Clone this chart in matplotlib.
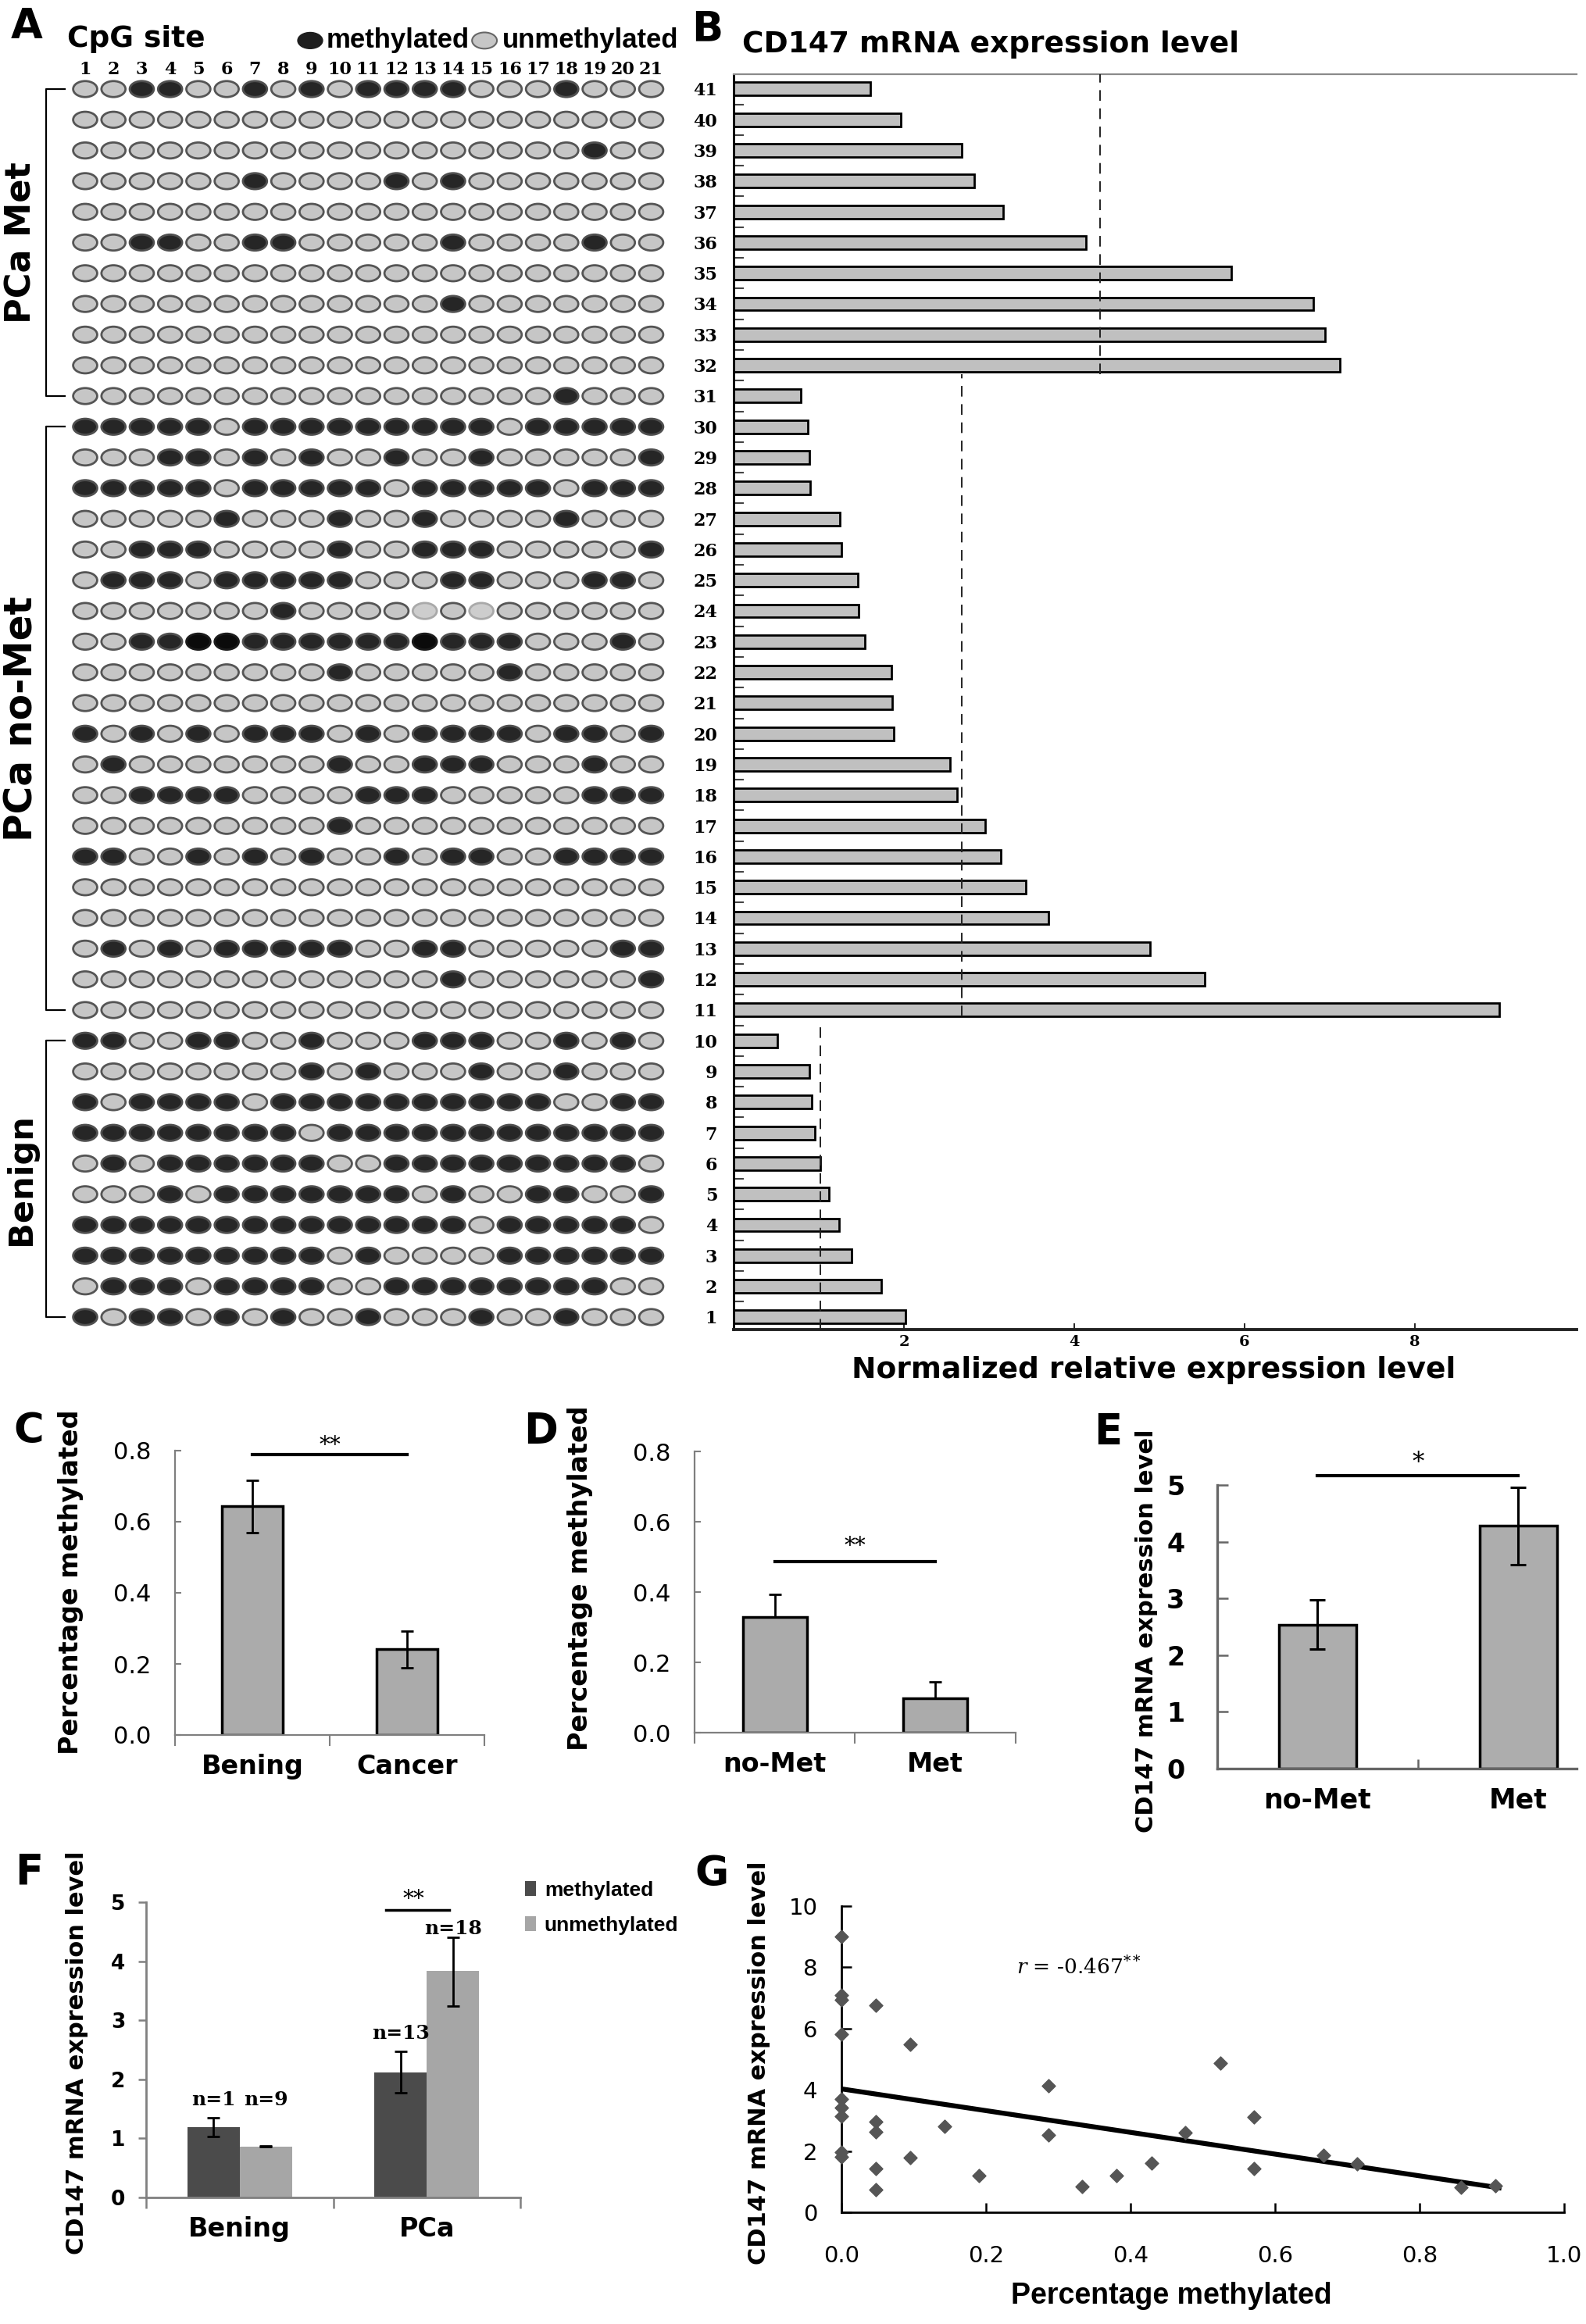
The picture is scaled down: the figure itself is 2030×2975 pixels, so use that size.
import numpy as np
import matplotlib.pyplot as plt
from matplotlib.patches import Ellipse
from matplotlib.ticker import FormatStrFormatter

plt.rcParams['font.family'] = 'DejaVu Sans'
plt.rcParams['mathtext.fontset'] = 'dejavuserif'

W, H = 2031, 2975
SERIF = 'DejaVu Serif'
ARIAL = 'Liberation Sans'

#%% data
samples = list(range(1, 42))
cpg_sites = list(range(1, 22))
# sample 1 .. 41, CpG site 1 .. 21
# 0 unmethylated, 1 methylated, 2 faint unmethylated, 3 strongly methylated
cpg_pattern = [
    "101101010010001001000",
    "011101111001111111100",
    "111111111010000111111",
    "111111111111110111110",
    "000101111111010011001",
    "010111111001111111110",
    "111111110111111111111",
    "101111011111111110011",
    "000000001010001001000",
    "110011001000111001010",
    "000000000000000000000",
    "000000000000010000001",
    "010101111100110000011",
    "000000000000000000000",
    "000000000000000000000",
    "110010101001011001111",
    "000000000100000000000",
    "001111000011100000111",
    "010000000100111000100",
    "101010111010111101101",
    "000000000000000000000",
    "000000000100000100000",
    "001133111111311100010",
    "000000010000202000000",
    "011101111100011000110",
    "001110000100111000001",
    "000001000100100001000",
    "111110111110111110111",
    "000110101001001000001",
    "111110111111111011111",
    "000000000000000001000",
    "000000000000000000000",
    "000000000000000000000",
    "000000000000010000000",
    "000000000000000000000",
    "001100110000010000100",
    "000000000000000000000",
    "000000100001010000000",
    "000000000000000000100",
    "000000000000000000000",
    "001100101011110001000",
]
expression = [2.02, 1.73, 1.39, 1.24, 1.12, 1.02, 0.95, 0.92, 0.89, 0.51,
              8.99, 5.53, 4.89, 3.70, 3.43, 3.14, 2.95, 2.62, 2.54, 1.88,
              1.86, 1.85, 1.54, 1.47, 1.46, 1.27, 1.25, 0.90, 0.89, 0.87,
              0.79, 7.12, 6.95, 6.81, 5.84, 4.14, 3.17, 2.83, 2.68, 1.96, 1.61]
groups = ['Benign', 'PCa no-Met', 'PCa Met']
group_rows = [(1, 10), (11, 30), (31, 41)]
group_mean = [1.02, 2.68, 4.30]
mean_span = [(0.59, 10.65), (10.8, 31.7), (31.7, 41.49)]

c_labels = ['Bening', 'Cancer']
c_vals = [0.643, 0.241]
c_err_lo = [0.074, 0.053]
c_err_hi = [0.074, 0.051]

d_labels = ['no-Met', 'Met']
d_vals = [0.328, 0.098]
d_err = [0.065, 0.047]

e_labels = ['no-Met', 'Met']
e_vals = [2.53, 4.29]
e_err_lo = [0.42, 0.70]
e_err_hi = [0.45, 0.67]

f_groups = ['Bening', 'PCa']
f_meth = [1.195, 2.117]
f_meth_lo = [0.16, 0.34]
f_meth_hi = [0.15, 0.36]
f_unmeth = [0.863, 3.83]
f_unmeth_lo = [0.005, 0.59]
f_unmeth_hi = [0.005, 0.58]
f_meth_n = ['n=1', 'n=13']
f_unmeth_n = ['n=9', 'n=18']

g_x = [0, 0, 0, 0, 0, 0, 0, 0, 0,
       0.048, 0.048, 0.048, 0.048, 0.048, 0.095, 0.095, 0.143, 0.190,
       0.286, 0.286, 0.333, 0.381, 0.429, 0.476, 0.524, 0.571, 0.571,
       0.667, 0.714, 0.857, 0.905]
g_y = [9.0, 7.08, 6.93, 5.82, 3.69, 3.41, 3.13, 1.96, 1.81,
       6.75, 2.95, 2.64, 1.43, 0.75, 5.48, 1.79, 2.81, 1.21,
       4.14, 2.53, 0.85, 1.21, 1.60, 2.59, 4.86, 3.12, 1.43,
       1.86, 1.58, 0.82, 0.87]
g_fit_x = [0.0, 0.91]
g_fit_y = [4.03, 0.80]

#%% helpers
fig = plt.figure(figsize=(W / 100, H / 100), dpi=100)
fig.patch.set_facecolor('white')


def px_axes(x0, y0, x1, y1):
    return fig.add_axes([x0 / W, 1 - y1 / H, (x1 - x0) / W, (y1 - y0) / H])


def ftext(x, y, s, **kw):
    return fig.text(x / W, 1 - y / H, s, **kw)


def panel_letter(x, y, s):
    ftext(x, y, s, fontsize=38, fontweight='bold', ha='center', va='center')


def style_bar_axes(ax, color, lw):
    for side in ['top', 'right']:
        ax.spines[side].set_visible(False)
    for side in ['left', 'bottom']:
        ax.spines[side].set_color(color)
        ax.spines[side].set_linewidth(lw)


#%% A: methylation map
axA = px_axes(90.9, 94.35, 851.6, 1705.65)
axA.set_xlim(0.5, 21.5)
axA.set_ylim(0.5, 41.5)
axA.axis('off')
dot_style = {'0': ('#c6c6c6', '#555555'), '1': ('#262626', '#4f4f4f'),
             '2': ('#cdcdcd', '#a9a9a9'), '3': ('#0b0b0b', '#1b1b1b')}
for s, pat in zip(samples, cpg_pattern):
    for site, c in zip(cpg_sites, pat):
        fc, ec = dot_style[c]
        axA.add_patch(Ellipse((site, s), 0.85, 0.52, facecolor=fc,
                              edgecolor=ec, lw=2))
for site in cpg_sites:
    axA.text(site, 41.64, str(site), ha='center', va='center', fontsize=16,
             fontweight='bold', family=SERIF, clip_on=False)
label_size = {'Benign': 31, 'PCa no-Met': 35, 'PCa Met': 32}
for name, (lo, hi) in zip(groups, group_rows):
    axA.plot([0.28, -0.38, -0.38, 0.28], [hi, hi, lo, lo], color='black',
             lw=1.6, clip_on=False)
    axA.text(-1.26, (lo + hi) / 2, name, rotation=90, ha='center',
             va='center', fontsize=label_size[name], fontweight='bold',
             clip_on=False)
axA.add_patch(Ellipse((8.95, 42.58), 0.88, 0.53, facecolor='#1e1e1e',
                      edgecolor='#1e1e1e', clip_on=False))
axA.add_patch(Ellipse((15.11, 42.58), 0.88, 0.53, facecolor='#c6c6c6',
                      edgecolor='#666666', lw=1.5, clip_on=False))
panel_letter(34, 34, 'A')
ftext(86, 50, 'CpG site', fontsize=27, fontweight='bold', va='center')
ftext(418, 52, 'methylated', fontsize=25, fontweight='bold', va='center',
      family=ARIAL)
ftext(643, 52, 'unmethylated', fontsize=25, fontweight='bold', va='center',
      family=ARIAL)

#%% B: expression per sample
axB = px_axes(939, 94.6, 2018, 1702)
axB.barh(samples, expression, height=0.43, color='#c0c0c0',
         edgecolor='black', lw=2, zorder=2)
for m, (lo, hi) in zip(group_mean, mean_span):
    axB.plot([m, m], [lo, hi], color='#222222', lw=1.4, ls=(0, (7, 5)),
             zorder=3)
axB.set_xlim(0, 9.9)
axB.set_ylim(0.59, 41.49)
axB.set_yticks(samples)
axB.set_yticklabels([str(s) for s in samples], family=SERIF,
                    fontweight='bold', fontsize=16)
axB.set_yticks(np.arange(1.5, 41, 1), minor=True)
axB.tick_params(axis='y', which='major', length=0, pad=15)
axB.tick_params(axis='y', which='minor', length=9, width=1.5,
                direction='in', color='#444444')
axB.set_xticks([2, 4, 6, 8])
axB.set_xticklabels(['2', '4', '6', '8'], family=SERIF, fontweight='bold',
                    fontsize=14)
axB.tick_params(axis='x', direction='in', length=6, width=1.2, pad=5)
axB.spines['right'].set_visible(False)
axB.spines['top'].set_color('#8a8a8a')
axB.spines['top'].set_linewidth(1.6)
axB.spines['left'].set_linewidth(2)
axB.spines['bottom'].set_linewidth(2.8)
axB.spines['bottom'].set_color('#222222')
panel_letter(905, 37, 'B')
ftext(950, 57, 'CD147 mRNA expression level', fontsize=27,
      fontweight='bold', va='center')
ftext(1477, 1754, 'Normalized relative expression level', fontsize=27,
      fontweight='bold', ha='center', va='center')

#%% C: methylation benign vs cancer
axC = px_axes(224, 1857, 620, 2221)
axC.bar([0, 1], c_vals, width=0.39, color='#ababab', edgecolor='black',
        lw=2.5, zorder=2)
axC.errorbar([0, 1], c_vals, yerr=[c_err_lo, c_err_hi], fmt='none',
             ecolor='black', elinewidth=2, capsize=6, capthick=2, zorder=3)
axC.set_xlim(-0.5, 1.5)
axC.set_ylim(0, 0.8)
axC.set_yticks([0, 0.2, 0.4, 0.6, 0.8])
axC.yaxis.set_major_formatter(FormatStrFormatter('%.1f'))
axC.set_xticks([0, 1])
axC.set_xticklabels(c_labels, fontsize=24, fontweight='bold')
axC.set_xticks([-0.5, 0.5, 1.5], minor=True)
axC.tick_params(axis='x', which='major', length=0, pad=17)
axC.tick_params(axis='x', which='minor', length=10, direction='out',
                color='#7f7f7f', width=1.5)
axC.tick_params(axis='y', direction='in', length=6, color='#7f7f7f',
                width=1.5, labelsize=22, pad=22)
style_bar_axes(axC, '#7f7f7f', 1.6)
axC.plot([0, 1], [0.789, 0.789], color='black', lw=3, clip_on=False)
axC.text(0.5, 0.815, '**', ha='center', va='center', fontsize=20,
         family=SERIF, clip_on=False)
panel_letter(37, 1832, 'C')
ftext(91, 2025, 'Percentage methylated', rotation=90, fontsize=24,
      fontweight='bold', ha='center', va='center')

#%% D: methylation no-Met vs Met
axD = px_axes(889, 1858, 1300, 2218)
axD.bar([0, 1], d_vals, width=0.40, color='#ababab', edgecolor='black',
        lw=2.5, zorder=2)
axD.errorbar([0, 1], d_vals, yerr=d_err, fmt='none', ecolor='black',
             elinewidth=2, capsize=6, capthick=2, zorder=1)
axD.set_xlim(-0.5, 1.5)
axD.set_ylim(0, 0.8)
axD.set_yticks([0, 0.2, 0.4, 0.6, 0.8])
axD.yaxis.set_major_formatter(FormatStrFormatter('%.1f'))
axD.set_xticks([0, 1])
axD.set_xticklabels(d_labels, fontsize=24, fontweight='bold')
axD.set_xticks([-0.5, 0.5, 1.5], minor=True)
axD.tick_params(axis='x', which='major', length=0, pad=17)
axD.tick_params(axis='x', which='minor', length=10, direction='out',
                color='#7f7f7f', width=1.5)
axD.tick_params(axis='y', direction='in', length=6, color='#7f7f7f',
                width=1.5, labelsize=22, pad=22)
style_bar_axes(axD, '#7f7f7f', 1.6)
axD.plot([0, 1], [0.487, 0.487], color='black', lw=3)
axD.text(0.5, 0.531, '**', ha='center', va='center', fontsize=20,
         family=SERIF)
panel_letter(692, 1832, 'D')
ftext(743, 2020, 'Percentage methylated', rotation=90, fontsize=24,
      fontweight='bold', ha='center', va='center')

#%% E: expression no-Met vs Met
axE = px_axes(1558, 1901, 2018, 2264)
axE.bar([0, 1], e_vals, width=0.385, color='#adadad', edgecolor='black',
        lw=2.5, zorder=2)
axE.errorbar([0, 1], e_vals, yerr=[e_err_lo, e_err_hi], fmt='none',
             ecolor='black', elinewidth=2.2, capsize=7, capthick=2.2,
             zorder=3)
axE.set_xlim(-0.5, 1.29)
axE.set_ylim(0, 5)
axE.set_yticks([0, 1, 2, 3, 4, 5])
axE.set_xticks([0, 1])
axE.set_xticklabels(e_labels, fontsize=25, fontweight='bold')
axE.set_xticks([0.5], minor=True)
axE.tick_params(axis='x', which='major', length=0, pad=17)
axE.tick_params(axis='x', which='minor', length=9, direction='in',
                color='#666666', width=1.8)
axE.tick_params(axis='y', direction='in', length=10, color='#666666',
                width=1.8, labelsize=24, pad=30)
for lbl in axE.get_yticklabels():
    lbl.set_fontweight('bold')
style_bar_axes(axE, '#666666', 2.4)
axE.plot([0, 1], [5.17, 5.17], color='black', lw=3, clip_on=False)
axE.text(0.5, 5.39, '*', ha='center', va='center', fontsize=22,
         family=SERIF, clip_on=False)
panel_letter(1418, 1833, 'E')
ftext(1468, 2088, 'CD147 mRNA expression level', rotation=90, fontsize=22,
      fontweight='bold', ha='center', va='center')

#%% F: expression by methylation status
axF = px_axes(187, 2435, 666, 2813)
pos = np.arange(len(f_groups))
axF.bar(pos - 0.14, f_meth, width=0.28, color='#4b4b4b', zorder=2,
        label='methylated')
axF.bar(pos + 0.14, f_unmeth, width=0.28, color='#a6a6a6', zorder=2,
        label='unmethylated')
axF.errorbar(pos - 0.14, f_meth, yerr=[f_meth_lo, f_meth_hi], fmt='none',
             ecolor='black', elinewidth=2, capsize=6, capthick=2, zorder=3)
axF.errorbar(pos + 0.14, f_unmeth, yerr=[f_unmeth_lo, f_unmeth_hi],
             fmt='none', ecolor='black', elinewidth=2, capsize=6,
             capthick=2, zorder=3)
n_label_y = [(1.66, 1.66), (2.78, 4.55)]
for i in range(len(f_groups)):
    axF.text(pos[i] - 0.14, n_label_y[i][0], f_meth_n[i], ha='center',
             va='center', fontsize=18, fontweight='bold', family=SERIF)
    axF.text(pos[i] + 0.14, n_label_y[i][1], f_unmeth_n[i], ha='center',
             va='center', fontsize=18, fontweight='bold', family=SERIF)
axF.set_xlim(-0.5, 1.5)
axF.set_ylim(0, 5)
axF.set_yticks([0, 1, 2, 3, 4, 5])
axF.set_xticks(pos)
axF.set_xticklabels(f_groups, fontsize=24, fontweight='bold')
axF.set_xticks([-0.5, 0.5, 1.5], minor=True)
axF.tick_params(axis='x', which='major', length=0, pad=17)
axF.tick_params(axis='x', which='minor', length=10, direction='out',
                color='#808080', width=1.8)
axF.tick_params(axis='y', direction='out', length=7, color='#808080',
                width=1.8, labelsize=19, pad=12)
for lbl in axF.get_yticklabels():
    lbl.set_fontweight('bold')
style_bar_axes(axF, '#808080', 2)
axF.plot([0.78, 1.12], [4.87, 4.87], color='black', lw=2.5, clip_on=False)
axF.text(0.93, 5.05, '**', ha='center', va='center', fontsize=20,
         family=SERIF, clip_on=False)
axF.legend(loc='upper left', bbox_to_anchor=(0.99, 1.1), frameon=False,
           prop={'family': ARIAL, 'weight': 'bold', 'size': 19},
           handlelength=0.55, handleheight=0.75, handletextpad=0.4,
           labelspacing=0.8, borderaxespad=0)
panel_letter(37, 2397, 'F')
ftext(99, 2628, 'CD147 mRNA expression level', rotation=90, fontsize=22,
      fontweight='bold', ha='center', va='center')

#%% G: correlation
axG = px_axes(1077, 2440, 2002, 2832)
axG.scatter(g_x, g_y, marker='D', s=75, color='#555555', zorder=3,
            clip_on=False)
axG.plot(g_fit_x, g_fit_y, color='black', lw=4.5, zorder=2)
axG.set_xlim(0, 1)
axG.set_ylim(0, 10)
axG.set_xticks([0, 0.2, 0.4, 0.6, 0.8, 1.0])
axG.xaxis.set_major_formatter(FormatStrFormatter('%.1f'))
axG.set_yticks([0, 2, 4, 6, 8, 10])
axG.tick_params(axis='x', direction='in', length=9, width=1.8, labelsize=21,
                pad=30)
axG.tick_params(axis='y', direction='in', length=9, width=1.8, labelsize=21,
                pad=22)
for side in ['top', 'right']:
    axG.spines[side].set_visible(False)
for side in ['left', 'bottom']:
    axG.spines[side].set_linewidth(2)
axG.text(0.242, 8.0, r'$\it{r}$ = -0.467$^{**}$', fontsize=19,
         family=SERIF, va='center')
panel_letter(911, 2399, 'G')
ftext(972, 2641, 'CD147 mRNA expression level', rotation=90, fontsize=22,
      fontweight='bold', ha='center', va='center')
ftext(1499, 2939, 'Percentage methylated', fontsize=27, fontweight='bold',
      ha='center', va='center', family=ARIAL)

fig.savefig('out.png', dpi=100)
